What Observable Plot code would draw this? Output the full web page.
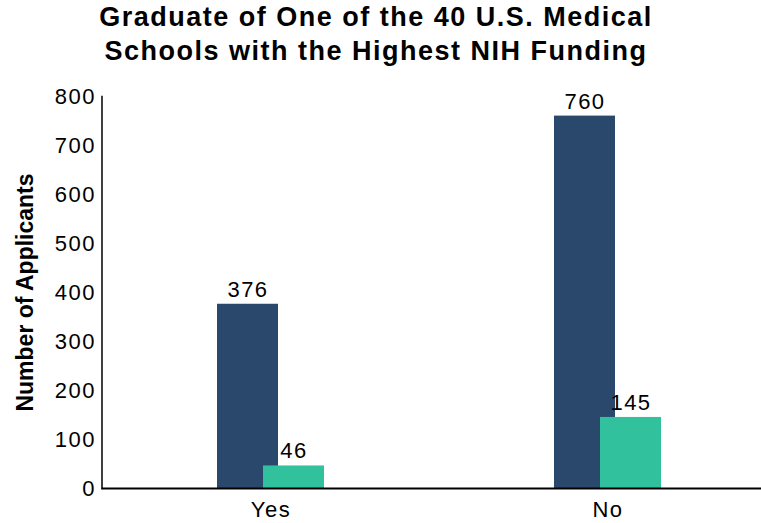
<!DOCTYPE html>
<html>
<head>
<meta charset="utf-8">
<script src="https://cdn.jsdelivr.net/npm/d3@7"></script>
<script src="https://cdn.jsdelivr.net/npm/@observablehq/plot@0.6"></script>
<style>
  html, body { margin: 0; padding: 0; background: #fff; }
  #title {
    width: 752px; text-align: center; font-family: "Liberation Sans", Arial, sans-serif;
    font-weight: bold; font-size: 27px; line-height: 34px; letter-spacing: 1.5px;
    height: 68px; color: #000;
  }
  svg { display: block; }
  svg text { letter-spacing: 1.5px; }
</style>
</head>
<body>
<div id="title">Graduate of One of the 40 U.S. Medical<br>Schools with the Highest NIH Funding</div>
<div id="chart"></div>
<script>
const categories = ["Yes", "No"];
const seriesA = [376, 760];
const seriesB = [46, 145];
const yTicks = [0, 100, 200, 300, 400, 500, 600, 700, 800];
const yLabel = "Number of Applicants";
const colorA = "#2a486c";
const colorB = "#31c29d";

const dataA = categories.map((c, i) => ({cat: c, v: seriesA[i]}));
const dataB = categories.map((c, i) => ({cat: c, v: seriesB[i]}));

const font = "Liberation Sans, Arial, sans-serif";
const off = 23;

const chart = Plot.plot({
  width: 761,
  height: 455,
  marginTop: 28,
  marginBottom: 35,
  marginLeft: 101.5,
  marginRight: 0,
  style: {fontFamily: font, fontSize: "22px", color: "#000", background: "#fff"},
  x: {type: "band", domain: categories, range: [101.5, 776.8], paddingInner: 0.819, paddingOuter: 0.4095},
  y: {domain: [0, 800]},
  marks: [
    Plot.barY(dataA, {x: "cat", y: "v", fill: colorA, dx: -off}),
    Plot.barY(dataB, {x: "cat", y: "v", fill: colorB, dx: off}),
    Plot.text(dataA, {x: "cat", y: "v", text: d => String(d.v), dx: -off, dy: -7.5, lineAnchor: "bottom", fontSize: 22, fill: "#000"}),
    Plot.text(dataB, {x: "cat", y: "v", text: d => String(d.v), dx: off, dy: -7.5, lineAnchor: "bottom", fontSize: 22, fill: "#000"}),
    Plot.axisY({ticks: yTicks, tickSize: 0, tickPadding: 6, label: null, fontSize: 22}),
    Plot.axisX({tickSize: 0, tickPadding: 12.5, label: null, fontSize: 22}),
    Plot.text([yLabel], {frameAnchor: "left", dx: -76, textAnchor: "middle", rotate: -90, fontWeight: "bold", fontSize: 23, fill: "#000"}),
    Plot.frame({anchor: "left", stroke: "#000", strokeWidth: 1.5}),
    Plot.ruleY([0], {stroke: "#000", strokeWidth: 2})
  ]
});
d3.select(chart).selectAll("text")
  .filter(function() { return this.textContent === yLabel; })
  .style("letter-spacing", "0px");
document.getElementById("chart").appendChild(chart);
</script>
</body>
</html>
